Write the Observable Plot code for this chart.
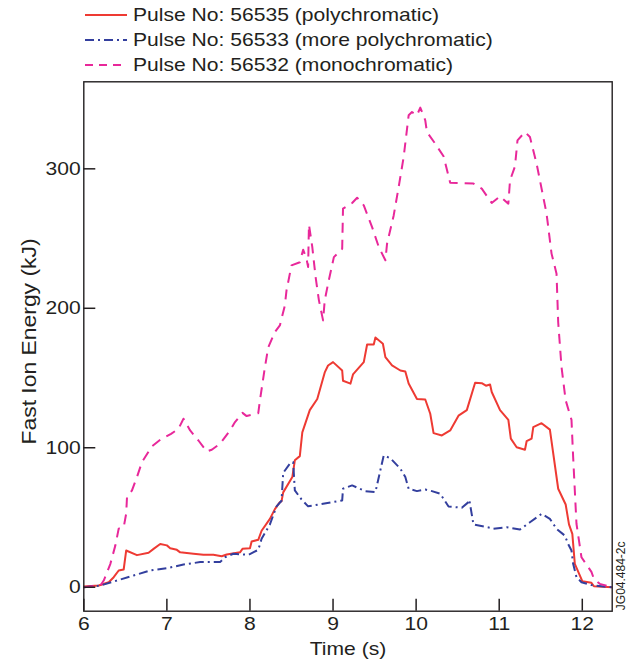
<!DOCTYPE html>
<html>
<head>
<meta charset="utf-8">
<script src="https://cdn.jsdelivr.net/npm/d3@7"></script>
<script src="https://cdn.jsdelivr.net/npm/@observablehq/plot@0.6"></script>
<style>
  html, body { margin: 0; padding: 0; background: #fff; }
  #wrap { position: relative; width: 631px; height: 668px; overflow: hidden;
          font-family: "Liberation Sans", Arial, Helvetica, sans-serif; color: #231f20; }
  #chart { position: absolute; left: 0; top: 0; width: 631px; height: 668px; }
  #legend { position: absolute; left: 0; top: 0; width: 631px; height: 78px; }
  .row { position: absolute; left: 85px; height: 24px; display: flex; align-items: center; }
  .row svg { display: block; }
  .row span { display: inline-block; margin-left: 6px; font-size: 18.5px; line-height: 24px;
              white-space: nowrap; transform: scaleX(1.14); transform-origin: left center; }
</style>
</head>
<body>
<div id="wrap">
  <div id="chart"></div>
  <div id="legend"></div>
</div>
<script>
// ---- data (time in s, fast ion energy in kJ) ----
const seriesNames = [
  "Pulse No: 56535 (polychromatic)",
  "Pulse No: 56533 (more polychromatic)",
  "Pulse No: 56532 (monochromatic)"
];
const seriesColors = ["#ee3a33", "#333f9e", "#e8289a"];
const seriesDash = [null, "9,4,2,4", "10,7"];

const pulse56535 = [
  [6.00,0.5],[6.18,1.2],[6.30,3.6],[6.36,7.2],[6.42,12],[6.48,12.7],[6.51,26.3],[6.64,23],
  [6.78,24.7],[6.84,27.5],[6.92,31],[7.00,30],[7.04,28],[7.12,26.8],[7.16,25],[7.32,24],
  [7.44,23.2],[7.56,23.2],[7.66,22.2],[7.72,23.5],[7.88,25],[7.91,27.5],[8.00,28],[8.02,32.8],
  [8.10,34],[8.14,40.5],[8.24,49],[8.30,56],[8.36,61],[8.38,61.5],[8.40,68],[8.51,79],
  [8.54,91],[8.60,94],[8.63,111],[8.72,127],[8.81,135],[8.90,154],[8.94,159],[9.00,161.4],
  [9.11,155.4],[9.12,148],[9.21,146],[9.24,152.6],[9.37,161.4],[9.41,174],[9.49,174],[9.51,179],
  [9.60,174.6],[9.63,165],[9.71,159],[9.81,155.4],[9.87,154.7],[9.91,146],[10.01,135],[10.11,134.6],
  [10.17,124.4],[10.21,110.5],[10.31,108.8],[10.41,112.4],[10.51,123],[10.61,127],[10.71,146.6],
  [10.79,146.3],[10.84,144.5],[10.89,145.4],[10.91,140],[11.01,127],[11.11,120],[11.14,106.5],
  [11.21,100.4],[11.31,98.6],[11.33,104.7],[11.39,106.5],[11.41,114.8],[11.51,117.6],[11.61,113],
  [11.71,70.6],[11.80,59.3],[11.84,45],[11.88,38.3],[11.91,16.8],[12.00,4.3],[12.11,3.2],
  [12.14,0.7],[12.36,0]
];
const pulse56533 = [
  [6.00,0],[6.20,1.2],[6.40,4.8],[6.60,8.4],[6.80,12],[7.00,13.6],[7.20,16.3],[7.40,18],
  [7.64,18],[7.70,21.5],[7.80,24],[7.98,23.2],[8.10,26.8],[8.14,34.7],[8.24,45],[8.32,58],
  [8.38,62],[8.40,82],[8.48,88.5],[8.52,89.7],[8.54,69.4],[8.62,63],[8.70,58],[8.88,59.8],
  [9.11,62.2],[9.12,70.6],[9.23,73],[9.39,68.9],[9.51,68.2],[9.61,94.5],[9.69,92.5],[9.81,85],
  [9.87,79],[9.91,70.6],[10.01,68.9],[10.11,70],[10.19,68.9],[10.29,67],[10.39,57.9],[10.55,57],
  [10.63,61],[10.64,62.7],[10.69,45],[10.89,42.6],[10.93,41.9],[11.09,43],[11.25,41.4],
  [11.37,46.6],[11.51,52.6],[11.61,49],[11.69,41.9],[11.79,37],[11.83,31],[11.87,26.3],
  [11.89,16.8],[11.93,7.2],[11.99,3.6],[12.13,1.2],[12.36,0]
];
const pulse56532 = [
  [6.00,0],[6.20,1.2],[6.24,4.8],[6.32,16.8],[6.38,30],[6.42,42],[6.48,43],[6.51,52.7],
  [6.52,64.6],[6.58,69.4],[6.64,79],[6.70,89.7],[6.82,101],[6.92,105.7],[7.05,110],[7.14,113.6],
  [7.20,120.8],[7.28,112.4],[7.38,105.2],[7.48,97.3],[7.54,98.6],[7.64,102.9],[7.76,112.4],
  [7.82,118.4],[7.91,125],[7.96,122.7],[8.10,124.8],[8.12,134],[8.18,157.8],[8.22,172],
  [8.30,183],[8.36,187.7],[8.42,202],[8.44,212.8],[8.50,230.8],[8.60,233],[8.64,242],
  [8.68,235.6],[8.70,229.6],[8.71,260],[8.75,244],[8.79,222.4],[8.83,205.7],[8.88,191.3],
  [8.90,205.7],[8.94,217.6],[9.01,236.7],[9.11,242.7],[9.12,271.4],[9.23,275.5],[9.29,279.3],
  [9.37,273.8],[9.47,258.2],[9.55,244],[9.63,234.4],[9.65,246.3],[9.73,266.6],[9.79,287],
  [9.85,308.5],[9.91,338.4],[9.95,340.7],[10.01,338.4],[10.05,343.9],[10.11,334.8],[10.13,326.4],
  [10.23,318],[10.33,309],[10.41,290],[10.53,289.8],[10.69,289.4],[10.79,285.8],[10.91,275.5],
  [11.01,280.3],[11.11,275],[11.13,291.7],[11.19,301.8],[11.22,320.4],[11.31,326.4],[11.37,322.8],
  [11.45,303.7],[11.57,267.9],[11.63,239.2],[11.69,224.8],[11.71,190],[11.75,157.8],[11.80,134],
  [11.87,120],[11.89,93.3],[11.93,45.5],[11.99,21.5],[12.11,11],[12.14,6],[12.21,2.4],[12.36,0]
];

const xTicks = [6, 7, 8, 9, 10, 11, 12];
const yTicks = [0, 100, 200, 300];
const xLabel = "Time (s)";
const yLabel = "Fast Ion Energy (kJ)";
const figureId = "JG04.484-2c";

const allSeries = [pulse56535, pulse56533, pulse56532];
const ink = "#231f20";

// layout
const W = 631, H = 668;
const mTop = 81.3, mBottom = 57.3, mLeft = 83.3, mRight = 19.3;
const xDomain = [6, 12.36], yDomain = [-17.2, 362.4];
const plotW = W - mLeft - mRight, plotH = H - mTop - mBottom;
const tickLen = 12;
// tick length expressed in data units (for rule marks)
const xTickSpan = tickLen * (xDomain[1] - xDomain[0]) / plotW;
const yTickSpan = tickLen * (yDomain[1] - yDomain[0]) / plotH;

const lineMarks = allSeries.map((s, i) =>
  Plot.line(s, {
    x: d => d[0], y: d => d[1],
    stroke: seriesColors[i], strokeWidth: 2,
    strokeDasharray: seriesDash[i] || undefined,
    strokeLinejoin: "round", strokeLinecap: "butt"
  })
);

const chart = Plot.plot({
  width: W,
  height: H,
  marginTop: mTop,
  marginBottom: mBottom,
  marginLeft: mLeft,
  marginRight: mRight,
  style: { fontFamily: '"Liberation Sans", Arial, sans-serif', fontSize: "18.5px",
           color: ink, background: "white" },
  x: { domain: xDomain },
  y: { domain: yDomain },
  marks: [
    ...lineMarks,
    Plot.frame({ stroke: ink, strokeWidth: 1.4 }),
    // inward tick marks
    Plot.ruleY(yTicks, { y: d => d, x1: xDomain[0], x2: xDomain[0] + xTickSpan,
                         stroke: ink, strokeWidth: 1.5 }),
    Plot.ruleX(xTicks, { x: d => d, y1: yDomain[0], y2: yDomain[0] + yTickSpan,
                         stroke: ink, strokeWidth: 1.5 }),
    // tick labels
    Plot.axisY({ ticks: yTicks, tickSize: 0, tickPadding: 3, label: null, fill: ink,
                 tickFormat: d3.format("d") }),
    Plot.axisX({ ticks: xTicks, tickSize: 0, tickPadding: 6, label: null, fill: ink,
                 tickFormat: d3.format("d") }),
    Plot.text([xLabel], { text: d => d, frameAnchor: "bottom", lineAnchor: "top",
                          dy: 30.5, fill: ink }),
    Plot.text([yLabel], { text: d => d, frameAnchor: "left", rotate: -90,
                          textAnchor: "middle", lineAnchor: "middle", dx: -55, dy: -5,
                          fontSize: 21, fill: ink }),
    Plot.text([figureId], { text: d => d, frameAnchor: "bottom-right", rotate: -90,
                            textAnchor: "start", lineAnchor: "middle", dx: 9, dy: -1,
                            fontSize: 12, fill: ink })
  ]
});
document.getElementById("chart").appendChild(chart);

// horizontal text in the reference is a little wider than tall: stretch glyphs
function stretch(t, k) {
  if (!t.textContent) return;
  const len = t.getComputedTextLength();
  t.setAttribute("textLength", (len * k).toFixed(2));
  t.setAttribute("lengthAdjust", "spacingAndGlyphs");
}
chart.querySelectorAll("text").forEach(t => {
  const s = t.textContent;
  if (!s || s === figureId) return;
  if (s === yLabel) { stretch(t, 1.09); return; }
  stretch(t, 1.14);
});

// legend
const legend = document.getElementById("legend");
const rowCenters = [15, 40, 65];
const legendDash = [null, "9,4,2,4", "8,6"];
seriesNames.forEach((name, i) => {
  const row = document.createElement("div");
  row.className = "row";
  row.style.top = (rowCenters[i] - 12) + "px";
  const sv = document.createElementNS("http://www.w3.org/2000/svg", "svg");
  sv.setAttribute("width", 42); sv.setAttribute("height", 6);
  const ln = document.createElementNS("http://www.w3.org/2000/svg", "line");
  ln.setAttribute("x1", 0); ln.setAttribute("x2", 42);
  ln.setAttribute("y1", 3); ln.setAttribute("y2", 3);
  ln.setAttribute("stroke", seriesColors[i]);
  ln.setAttribute("stroke-width", 2);
  if (legendDash[i]) ln.setAttribute("stroke-dasharray", legendDash[i]);
  sv.appendChild(ln);
  const sp = document.createElement("span");
  sp.textContent = name;
  row.appendChild(sv); row.appendChild(sp);
  legend.appendChild(row);
});
</script>
</body>
</html>
